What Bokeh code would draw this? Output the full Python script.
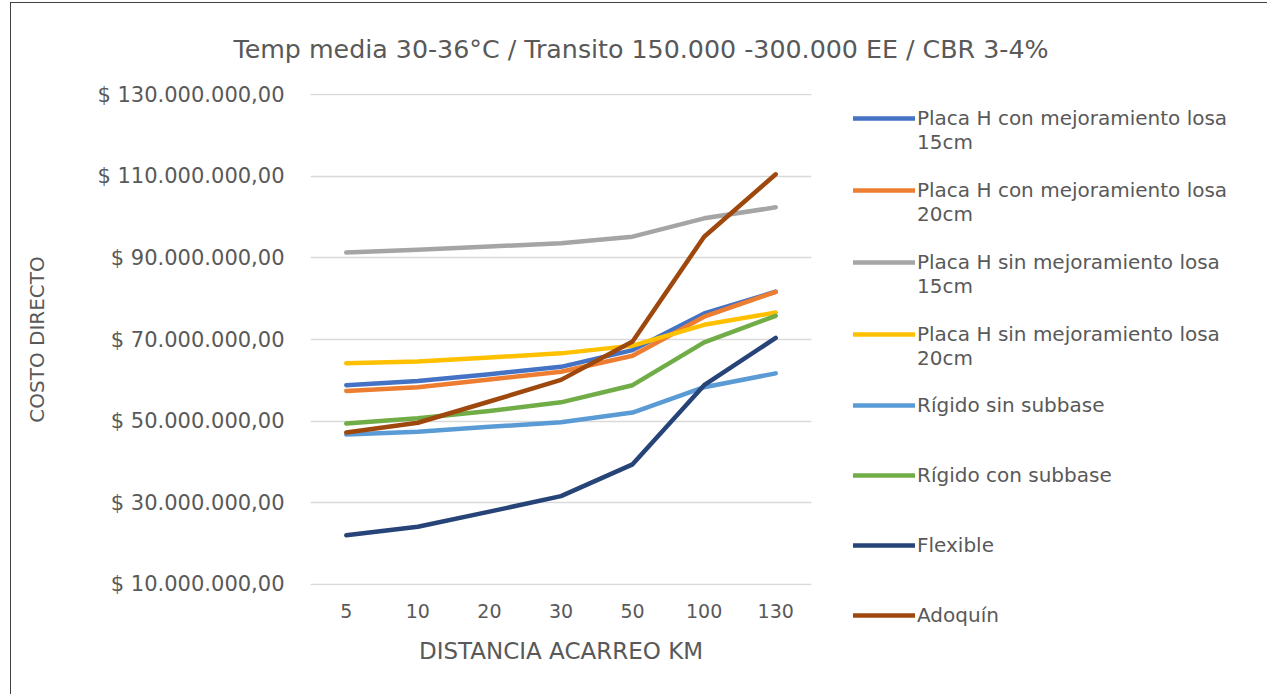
from bokeh.plotting import figure
from bokeh.models import ColumnDataSource, Legend, LegendItem, FixedTicker
from bokeh.embed import file_html
from bokeh.resources import INLINE

distances = ["5", "10", "20", "30", "50", "100", "130"]

placa_con_15 = [58.8, 59.8, 61.5, 63.3, 67.4, 76.4, 81.7]
placa_con_20 = [57.4, 58.3, 60.2, 62.1, 66.0, 75.6, 81.7]
placa_sin_15 = [91.3, 92.0, 92.8, 93.6, 95.2, 99.7, 102.4]
placa_sin_20 = [64.2, 64.6, 65.6, 66.6, 68.5, 73.6, 76.6]
rigido_sin = [46.7, 47.4, 48.6, 49.7, 52.1, 58.3, 61.7]
rigido_con = [49.4, 50.7, 52.5, 54.6, 58.8, 69.3, 75.8]
flexible = [22.0, 24.1, 27.8, 31.6, 39.4, 58.8, 70.4]
adoquin = [47.2, 49.6, 54.8, 60.1, 69.5, 95.2, 110.5]

# leading blank line keeps the swatch level with the first text line
series_names = [
    " \nPlaca H con mejoramiento losa\n15cm",
    " \nPlaca H con mejoramiento losa\n20cm",
    " \nPlaca H sin mejoramiento losa\n15cm",
    " \nPlaca H sin mejoramiento losa\n20cm",
    "Rígido sin subbase",
    "Rígido con subbase",
    "Flexible",
    "Adoquín",
]
series_values = [placa_con_15, placa_con_20, placa_sin_15, placa_sin_20,
                 rigido_sin, rigido_con, flexible, adoquin]
series_colors = ["#4472C4", "#ED7D31", "#A5A5A5", "#FFC000",
                 "#5B9BD5", "#70AD47", "#264478", "#9E480E"]

y_ticks = [10e6, 30e6, 50e6, 70e6, 90e6, 110e6, 130e6]
y_tick_labels = ["$ 10.000.000,00", "$ 30.000.000,00", "$ 50.000.000,00",
                 "$ 70.000.000,00", "$ 90.000.000,00", "$ 110.000.000,00",
                 "$ 130.000.000,00"]

TEXT = "#595959"
FONT = "DejaVu Sans"

p = figure(x_range=distances, y_range=(9.7e6, 130.3e6),
           frame_width=501, frame_height=492,
           output_backend="svg", toolbar_location=None,
           min_border_left=299, min_border_right=20, min_border_top=89,
           min_border_bottom=109)
p.styles = {"margin-left": "10px", "margin-top": "2px",
            "border-left": "1px solid #404040", "border-top": "1px solid #404040"}

p.title.text = "Temp media 30-36°C / Transito 150.000 -300.000 EE / CBR 3-4%"
p.title.text_font = FONT
p.title.text_font_size = "25.3px"
p.title.text_font_style = "normal"
p.title.text_color = TEXT
p.title.align = "left"
p.title.offset = -77
p.title.standoff = 59

items = []
for name, vals, col in zip(series_names, series_values, series_colors):
    src = ColumnDataSource(dict(x=distances, y=[v * 1e6 for v in vals]))
    r = p.line("x", "y", source=src, line_color=col, line_width=4.5,
               line_cap="round", line_join="round")
    items.append(LegendItem(label=name, renderers=[r]))

legend = Legend(items=items, location=(42, -65), orientation="vertical")
legend.border_line_color = None
legend.background_fill_alpha = 0
legend.margin = 0
legend.padding = 0
legend.spacing = 0
legend.glyph_width = 62
legend.glyph_height = 28
legend.label_height = 70
legend.label_standoff = 2
legend.label_text_font = FONT
legend.label_text_font_size = "20px"
legend.label_text_color = TEXT
p.add_layout(legend, "right")

p.outline_line_color = None
p.background_fill_color = "white"
p.border_fill_color = "white"

p.xgrid.grid_line_color = None
p.ygrid.grid_line_color = "#D9D9D9"
p.ygrid.grid_line_width = 1.5
p.yaxis.ticker = FixedTicker(ticks=y_ticks)
p.yaxis.major_label_overrides = {t: l for t, l in zip(y_ticks, y_tick_labels)}

for ax in (p.xaxis[0], p.yaxis[0]):
    ax.axis_line_color = None
    ax.major_tick_line_color = None
    ax.minor_tick_line_color = None
    ax.major_label_text_font = FONT
    ax.major_label_text_color = TEXT
    ax.axis_label_text_font = FONT
    ax.axis_label_text_color = TEXT
    ax.axis_label_text_font_style = "normal"

p.yaxis.major_label_text_font_size = "21px"
p.yaxis.major_label_standoff = 20
p.yaxis.axis_label = "COSTO DIRECTO"
p.yaxis.axis_label_text_font_size = "20px"
p.yaxis.axis_label_standoff = 45

p.xaxis.major_label_text_font_size = "19px"
p.xaxis.major_label_standoff = 12
p.xaxis.axis_label = "DISTANCIA ACARREO KM"
p.xaxis.axis_label_text_font_size = "23px"
p.xaxis.axis_label_standoff = 17

open("out.html", "w").write(file_html(p, INLINE))
